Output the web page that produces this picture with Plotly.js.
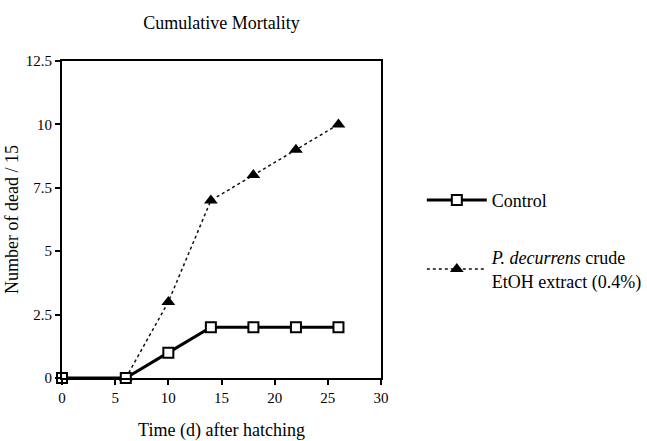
<!DOCTYPE html>
<html>
<head>
<meta charset="utf-8">
<script src="https://cdn.plot.ly/plotly-3.0.1.min.js"></script>
<style>html,body{margin:0;padding:0;background:#fff;}#chart{width:647px;height:441px;}</style>
</head>
<body>
<div id="chart"></div>
<script>
// Data
var days = [0, 6, 10, 14, 18, 22, 26];
var controlDead = [0, 0, 1, 2, 2, 2, 2];
var extractDays = [6, 10, 14, 18, 22, 26];
var extractDead = [0, 3, 7, 8, 9, 10];
var seriesNames = ['Control', '<i>P. decurrens</i> crude<br>EtOH extract (0.4%)'];
var xTicks = [0, 5, 10, 15, 20, 25, 30];
var yTicks = [0, 2.5, 5, 7.5, 10, 12.5];

var font = 'Liberation Serif, Times New Roman, serif';

var traces = [
  {
    x: extractDays, y: extractDead, name: seriesNames[1], type: 'scatter', mode: 'lines+markers',
    line: {color: '#111', width: 1.5, dash: 'dot'},
    marker: {symbol: 'triangle-up', size: 12, color: '#000'},
    cliponaxis: false, legendrank: 2, legendgroup: 'b'
  },
  {
    x: days, y: controlDead, name: seriesNames[0], type: 'scatter', mode: 'lines+markers',
    line: {color: '#000', width: 3},
    marker: {symbol: 'square', size: 10, color: '#fff', line: {color: '#000', width: 2}},
    cliponaxis: false, legendrank: 1, legendgroup: 'a'
  }
];

var layout = {
  width: 647, height: 441,
  margin: {l: 62, r: 266, t: 61, b: 63, autoexpand: false},
  paper_bgcolor: '#fff', plot_bgcolor: '#fff',
  font: {family: font, color: '#000', size: 15},
  title: {text: 'Cumulative Mortality', font: {family: font, size: 18, color: '#000'},
          x: 0.5, xref: 'paper', y: 1 - 23/441, yref: 'container', yanchor: 'middle'},
  xaxis: {
    range: [0, 30], tickvals: xTicks, ticktext: xTicks.map(String),
    showgrid: false, zeroline: false, showline: true, mirror: true,
    linecolor: '#000', linewidth: 2, ticks: 'outside', ticklen: 5, tickwidth: 2, tickcolor: '#000',
    tickfont: {family: font, size: 15, color: '#000'},
    title: {text: 'Time (d) after hatching', font: {family: font, size: 18, color: '#000'}, standoff: 19}
  },
  yaxis: {
    range: [0, 12.5], tickvals: yTicks, ticktext: yTicks.map(String),
    showgrid: false, zeroline: false, showline: true, mirror: true,
    linecolor: '#000', linewidth: 2, ticks: 'outside', ticklen: 5, tickwidth: 2, tickcolor: '#000',
    tickfont: {family: font, size: 15, color: '#000'},
    title: {text: 'Number of dead / 15', font: {family: font, size: 18, color: '#000'}, standoff: 2}
  },
  showlegend: true,
  legend: {
    x: 1.128, xanchor: 'left', y: 0.619, yanchor: 'top',
    font: {family: font, size: 18, color: '#000'},
    bgcolor: 'rgba(0,0,0,0)', borderwidth: 0,
    traceorder: 'grouped', tracegroupgap: 31, itemwidth: 60
  }
};

Plotly.newPlot('chart', traces, layout, {displayModeBar: false, staticPlot: true});
</script>
</body>
</html>
